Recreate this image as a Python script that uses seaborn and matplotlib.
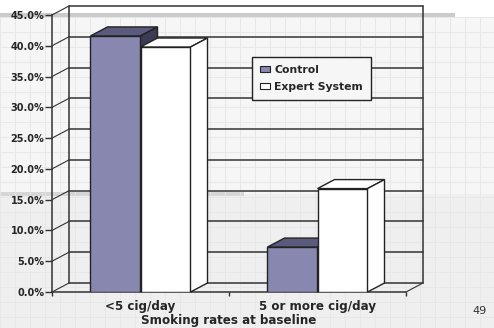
import numpy as np
import pandas as pd
import matplotlib
matplotlib.use("Agg")
import matplotlib.pyplot as plt
from matplotlib.patches import Polygon, Patch, Rectangle
import seaborn as sns

# chart data
categories = ["<5 cig/day", "5 or more cig/day"]
groups = ["Control", "Expert System"]
control_vals = [41.6, 7.3]
expert_vals = [39.8, 16.8]
y_ticks = [0, 5, 10, 15, 20, 25, 30, 35, 40, 45]

df = pd.DataFrame({
    "rate": categories * 2,
    "group": [groups[0]] * 2 + [groups[1]] * 2,
    "value": control_vals + expert_vals,
})

sns.set_theme(style="white")
plt.rcParams["font.family"] = ["DejaVu Sans"]

W, H = 494, 328
fig = plt.figure(figsize=(W / 100, H / 100), dpi=100)
fig.patch.set_facecolor("white")

# slide background (faint squared paper + grey stripes)
bg = fig.add_axes([0, 0, 1, 1], zorder=-5)
bg.set_xlim(0, W)
bg.set_ylim(H, 0)
bg.axis("off")
bg.add_patch(Rectangle((0, 17), W, 177, color="#f6f6f6", lw=0))
bg.add_patch(Rectangle((0, 194), W, H - 194, color="#efefef", lw=0))
for gx in np.arange(0, W, 15):
    bg.plot([gx, gx], [17, H], color="#e6e6e6", lw=0.6)
for gy in np.arange(17, H, 15):
    bg.plot([0, W], [gy, gy], color="#e6e6e6", lw=0.6)
bg.add_patch(Rectangle((0, 13), 455, 4, color="#cbcbcb", lw=0))
bg.add_patch(Rectangle((0, 192), 244, 4, color="#d6d6d6", lw=0))

ax = fig.add_axes([52 / W, 36 / H, 354 / W, 277 / H])
ax.patch.set_alpha(0)

ctrl_front = "#8787b0"
ctrl_top = "#5a5a7c"
ctrl_side = "#3b3b56"
sns.barplot(data=df, x="rate", y="value", hue="group", palette=[ctrl_front, "white"],
            width=0.565, edgecolor="#222222", linewidth=1.0, saturation=1,
            legend=False, ax=ax)

ax.set_xlim(-0.5, 1.5)
ax.set_ylim(0, 45)

# depth of the 3-D box in data units
dx = 17 / 177
dy = 9 / (277 / 45)
line_kw = dict(color="#333333", lw=1.1, clip_on=False, zorder=1)

x0, x1 = -0.5, 1.5
for v in y_ticks:
    ax.plot([x0, x0 + dx], [v, v + dy], color="#333333", lw=0.8, clip_on=False, zorder=1)
    ax.plot([x0 + dx, x1 + dx], [v + dy, v + dy], **line_kw)
ax.plot([x0 + dx, x0 + dx], [dy, 45 + dy], **line_kw)
ax.plot([x1 + dx, x1 + dx], [dy, 45 + dy], **line_kw)
ax.plot([x1, x1 + dx], [0, dy], color="#333333", lw=0.8, clip_on=False, zorder=1)

# 3-D faces for each bar
bars = sorted(ax.patches, key=lambda p: p.get_x())
z = 2
for p in bars:
    bx, bw, bh = p.get_x(), p.get_width(), p.get_height()
    fc = p.get_facecolor()
    is_ctrl = fc[0] < 0.9
    top_c = ctrl_top if is_ctrl else "white"
    side_c = ctrl_side if is_ctrl else "white"
    p.set_zorder(z)
    top = Polygon([(bx, bh), (bx + bw, bh), (bx + bw + dx, bh + dy), (bx + dx, bh + dy)],
                  closed=True, fc=top_c, ec="#222222", lw=1.0, zorder=z + 0.1, clip_on=False)
    side = Polygon([(bx + bw, 0), (bx + bw, bh), (bx + bw + dx, bh + dy), (bx + bw + dx, dy)],
                   closed=True, fc=side_c, ec="#222222", lw=1.0, zorder=z + 0.2, clip_on=False)
    ax.add_patch(top)
    ax.add_patch(side)
    z += 1

for s in ["top", "right"]:
    ax.spines[s].set_visible(False)
for s in ["left", "bottom"]:
    ax.spines[s].set_color("#333333")
    ax.spines[s].set_linewidth(1.1)
    ax.spines[s].set_zorder(1)

ax.set_yticks(y_ticks)
ax.set_yticklabels([f"{v:.1f}%" for v in y_ticks], fontsize=7, fontweight="bold")
ax.tick_params(axis="y", length=5, width=1, color="#333333", pad=0.5, left=True)
ax.set_xticks([0, 1])
ax.set_xticklabels(categories, fontsize=8.6, fontweight="bold")
ax.set_xticks([-0.5, 0.5, 1.5], minor=True)
ax.tick_params(axis="x", which="major", length=0, pad=5.5)
ax.tick_params(axis="x", which="minor", length=3, width=1, color="#333333", bottom=True)
ax.set_xlabel("Smoking rates at baseline", fontsize=8.6, fontweight="bold", labelpad=1)
ax.set_ylabel("")

handles = [Patch(fc=ctrl_front, ec="#222222", lw=0.8, label=groups[0]),
           Patch(fc="white", ec="#222222", lw=0.8, label=groups[1])]
leg = ax.legend(handles=handles, loc="upper left", bbox_to_anchor=(200 / 354, 0.848),
                prop={"weight": "bold", "size": 7.8}, frameon=True, fancybox=False,
                edgecolor="#222222", facecolor="#f6f6f6", framealpha=1,
                handlelength=0.9, handleheight=0.5, handletextpad=0.4,
                borderpad=0.75, labelspacing=0.6, borderaxespad=0)
leg.get_frame().set_linewidth(1.0)
leg.set_zorder(20)

fig.text(480 / W, 1 - 311 / H, "49", fontsize=8, color="#333333", ha="center", va="center")

fig.savefig("out.png", dpi=100)
